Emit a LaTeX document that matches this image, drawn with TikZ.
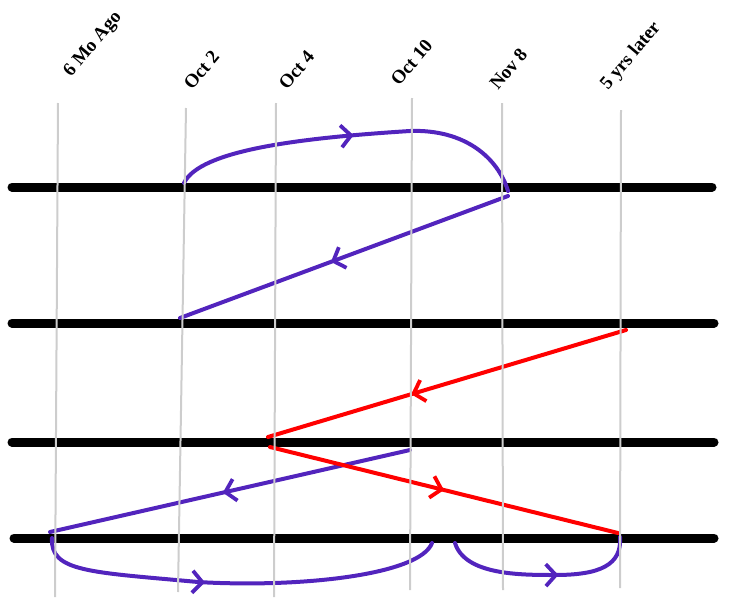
\documentclass[tikz,border=0pt]{standalone}
\usepackage{fontspec}
\setmainfont{Liberation Serif}
\usetikzlibrary{arrows.meta,decorations.markings}
\definecolor{tlpurple}{RGB}{82,36,189}
\definecolor{tlred}{RGB}{255,0,0}
\definecolor{tlgray}{RGB}{205,205,205}
\begin{document}
\begin{tikzpicture}[x=1pt,y=-1pt,
  timeline/.style={line width=9pt, line cap=round, black},
  guide/.style={line width=2pt, tlgray},
  datelabel/.style={rotate=50, anchor=base west, inner sep=0pt, font=\fontsize{19}{19}\selectfont\bfseries},
  flow/.style={line width=4pt, line cap=round, line join=round},
  midarrow/.style={postaction={decorate}, decoration={markings, mark=at position #1 with {\arrow{Straight Barb[length=10pt,width=22pt,line width=3.8pt]}}}},
]
\useasboundingbox (0,0) rectangle (737,600);

% labels
\node[datelabel] (l1) at (71,78) {6 Mo Ago};
\node[datelabel] (l2) at (192,91) {Oct 2};
\node[datelabel] (l3) at (287,91) {Oct 4};
\node[datelabel] (l4) at (399,87) {Oct 10};
\node[datelabel] (l5) at (498,91) {Nov 8};
\node[datelabel] (l6) at (608,91) {5 yrs later};

% timelines
\coordinate (t1a) at (12,187);  \coordinate (t1b) at (712,187);
\coordinate (t2a) at (12,323);  \coordinate (t2b) at (714,323);
\coordinate (t3a) at (12,442);  \coordinate (t3b) at (714,442);
\coordinate (t4a) at (14,538);  \coordinate (t4b) at (714,538);
\draw[timeline] (t1a) -- (t1b);
\draw[timeline] (t2a) -- (t2b);
\draw[timeline] (t3a) -- (t3b);
\draw[timeline] (t4a) -- (t4b);

% event points
\coordinate (p1) at (184,183);
\coordinate (p2) at (508,191);
\coordinate (p3) at (508,196);
\coordinate (p4) at (180,318);
\coordinate (r1) at (626,330);
\coordinate (r2) at (268,437);
\coordinate (r3) at (270,447);
\coordinate (r4) at (618,533);
\coordinate (q1) at (410,450);
\coordinate (q2) at (50,532);
\coordinate (b1) at (52,538);
\coordinate (b2) at (432,543);
\coordinate (b3) at (455,543);
\coordinate (b4) at (620,537);

% purple flows
\draw[flow, tlpurple, midarrow=0.5] (p1) .. controls (200,150) and (300,138) .. (410,131)
   .. controls (465,129) and (498,158) .. (p2);
\draw[flow, tlpurple, midarrow=0.54] (p3) -- (p4);
\draw[flow, tlpurple, midarrow=0.52] (q1) -- (q2);
\draw[flow, tlpurple, midarrow=0.42] (b1) .. controls (50,572) and (90,572) .. (198,582)
   .. controls (300,588) and (420,575) .. (b2);
\draw[flow, tlpurple, midarrow=0.58] (b3) .. controls (465,575) and (520,575) .. (555,575)
   .. controls (600,575) and (622,565) .. (b4);

% red flows
\draw[flow, tlred, midarrow=0.6] (r1) -- (r2);
\draw[flow, tlred, midarrow=0.5] (r3) -- (r4);

% guide lines
\coordinate (g1a) at (58,103);  \coordinate (g1b) at (55,597);
\coordinate (g2a) at (186,108); \coordinate (g2b) at (178,592);
\coordinate (g3a) at (276,103); \coordinate (g3b) at (274,597);
\coordinate (g4a) at (412,98);  \coordinate (g4b) at (410,590);
\coordinate (g5a) at (502,103); \coordinate (g5b) at (503,590);
\coordinate (g6a) at (621,110); \coordinate (g6b) at (620,588);
\draw[guide] (g1a) -- (g1b);
\draw[guide] (g2a) -- (g2b);
\draw[guide] (g3a) -- (g3b);
\draw[guide] (g4a) -- (g4b);
\draw[guide] (g5a) -- (g5b);
\draw[guide] (g6a) -- (g6b);
\end{tikzpicture}
\end{document}
